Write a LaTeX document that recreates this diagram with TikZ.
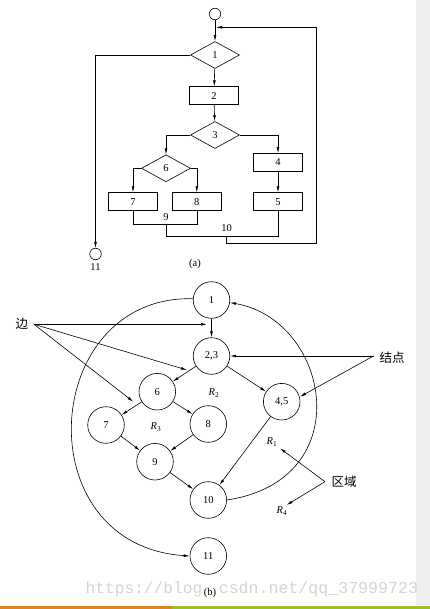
\documentclass[tikz,border=0pt]{standalone}
\usepackage{fontspec}
\setmainfont{Liberation Serif}
\setmonofont{Liberation Mono}
\newfontfamily\cjk{Noto Sans CJK SC}
\usetikzlibrary{shapes.geometric,arrows.meta}
\definecolor{barorange}{RGB}{222,132,36}
\definecolor{bargreen}{RGB}{158,190,44}
\definecolor{stripgray}{RGB}{238,238,238}
\begin{document}
\begin{tikzpicture}[x=1pt,y=-1pt,
  line width=0.6pt,
  font=\fontsize{10.5}{12}\selectfont,
  arr/.style={-{Latex[length=6pt,width=2.8pt]}},
  dia/.style={diamond,draw,minimum width=49pt,minimum height=27pt,inner sep=0pt},
  blk/.style={rectangle,draw,minimum width=49pt,minimum height=18pt,inner sep=0pt},
  term/.style={circle,draw,minimum size=11.5pt,inner sep=0pt},
  gn/.style={circle,draw,minimum size=36.6pt,inner sep=0pt},
  lbl/.style={inner sep=0pt},
  cjklbl/.style={inner sep=0pt,font=\cjk\fontsize{12.5}{14}\selectfont},
  wmark/.style={inner sep=0pt,text=black!17,font=\ttfamily\fontsize{16.6}{18}\selectfont}
]
\useasboundingbox (0,0) rectangle (430,609);
% slide decoration
\fill[stripgray] (415.7,0) rectangle (430,605);
\fill[barorange] (0,605.5) rectangle (172,609);
\fill[bargreen] (172,605.5) rectangle (430,609);
% watermark (its dot is hidden under the caption "(b)")
\node[wmark,anchor=east,font=\ttfamily\fontsize{16.2}{18}\selectfont] (wm1) at (202.6,589.5) {https://blog};
\node[wmark,anchor=west] (wm2) at (218.5,589.5) {csdn.net/qq\_37999723};

% ---------------- (a) flowchart ----------------
\node[term] (s) at (215,14) {};
\node[dia] (d1) at (215,55) {1};
\node[blk] (b2) at (214,95.7) {2};
\node[dia] (d3) at (215,135) {3};
\node[dia] (d6) at (166,168.3) {6};
\node[blk] (b4) at (278,162.5) {4};
\node[blk] (b5) at (278,201.7) {5};
\node[blk] (b7) at (133,201.7) {7};
\node[blk] (b8) at (196.8,201.7) {8};
\node[term] (e) at (95.5,254) {};
\node[lbl] (l11) at (95.5,267.5) {11};
\node[lbl] (capa) at (195,264) {(a)};
\node[lbl] (l9) at (166,217.3) {9};
\node[lbl] (l10) at (226.7,228.3) {10};
\coordinate (j9) at (166,224.3);
\coordinate (j10) at (226.7,236);
\coordinate (jr) at (316.7,243.3);
\coordinate (back) at (216,27.3);

\draw[arr] (s) -- (d1);
\draw[arr] (d1) -- (b2);
\draw[arr] (b2) -- (d3);
\draw[arr] (d3.west) -| (d6.north);
\draw[arr] (d3.east) -| (b4.north);
\draw[arr] (b4) -- (b5);
\draw[arr] (d6.west) -| (b7.north);
\draw[arr] (d6.east) -| (b8.north);
\draw (b7.south) -- (b7.south |- j9) -- (b8.south |- j9) -- (b8.south);
\draw (j9) -- (j9 |- j10) -- (b5.south |- j10) -- (b5.south);
\draw[arr] (j10) -- (j10 |- jr) -- (jr) -- (jr |- back) -- (back);
\draw[arr] (d1.west) -| (e.north);

% ---------------- (b) flow graph ----------------
\node[gn] (n1) at (211.5,300) {1};
\node[gn] (n23) at (211.5,356) {2,3};
\node[gn] (n6) at (157.3,391.7) {6};
\node[gn] (n45) at (281.7,401.7) {4,5};
\node[gn] (n7) at (106,425) {7};
\node[gn] (n8) at (208.3,424) {8};
\node[gn] (n9) at (155,461.7) {9};
\node[gn] (n10) at (208.3,500) {10};
\node[gn] (n11) at (208.3,556) {11};
\node[lbl] (capb) at (210,592.7) {(b)};

\node[lbl] (r2) at (214,393.3) {\textit{R}\textsubscript{2}};
\node[lbl] (r3) at (156,427) {\textit{R}\textsubscript{3}};
\node[lbl] (r1) at (272,442) {\textit{R}\textsubscript{1}};
\node[lbl] (r4) at (282,511) {\textit{R}\textsubscript{4}};

\draw[arr] (n1) -- (n23);
\draw[arr] (n23) -- (n6);
\draw[arr] (n23) -- (n45);
\draw[arr] (n6) -- (n7);
\draw[arr] (n6) -- (n8);
\draw[arr] (n7) -- (n9);
\draw[arr] (n8) -- (n9);
\draw[arr] (n9) -- (n10);
\draw[arr] (n45) -- (n10);
\draw[arr] (n10.east) .. controls (360,480) and (330,320) .. (n1.-8);
\draw[arr] (n1.176) .. controls (40,295) and (25,545) .. (n11.west);

% annotations
\node[cjklbl] (bian) at (22,324.3) {边};
\node[cjklbl] (jd) at (392,357.7) {结点};
\node[cjklbl] (qy) at (344,481.7) {区域};
\coordinate (bs) at (34,324.3);
\coordinate (js) at (373.5,356);
\coordinate (qs) at (325,481.7);
\coordinate (t1) at (207,324.3);
\coordinate (t2) at (187,370);
\coordinate (t3) at (133.3,401.7);
\coordinate (t4) at (300,396.7);
\coordinate (t5) at (280,448.3);
\coordinate (t6) at (286.7,505);
\draw[arr] (bs) -- (t1);
\draw[arr] (bs) -- (t2);
\draw[arr] (bs) -- (t3);
\draw[arr] (js) -- (n23.east);
\draw[arr] (js) -- (t4);
\draw[arr] (qs) -- (t5);
\draw[arr] (qs) -- (t6);
\end{tikzpicture}
\end{document}
